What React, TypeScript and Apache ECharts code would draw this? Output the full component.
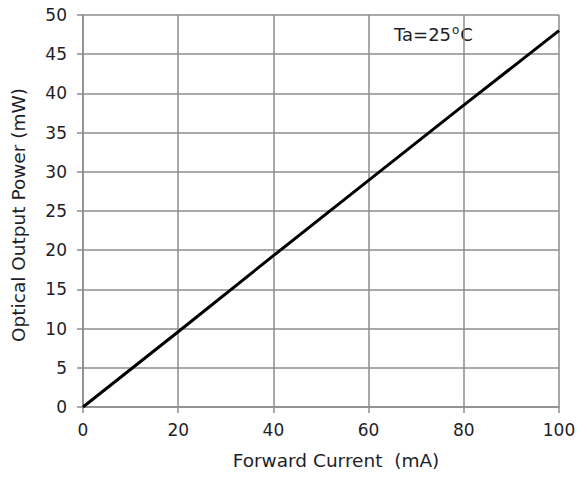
import React, { useEffect, useRef } from "react";
import * as echarts from "echarts";

const currents = [0, 20, 40, 60, 80, 100];
const powers = [0, 9.6, 19.3, 28.9, 38.5, 48];
const xName = "Forward Current  (mA)";
const yName = "Optical Output Power (mW)";

export default function App() {
  const ref = useRef<HTMLDivElement>(null);
  useEffect(() => {
    const chart = echarts.init(ref.current!, undefined, { renderer: "svg" });
    const gray = "#8c8c8c";
    const font = "'DejaVu Sans', sans-serif";
    const txt = "#1e1e28";
    chart.setOption({
      animation: false,
      backgroundColor: "#ffffff",
      grid: { left: 83, right: 28, top: 15, bottom: 73, containLabel: false, outerBoundsMode: "none" },
      xAxis: {
        type: "value",
        min: 0,
        max: 100,
        interval: 20,
        name: xName,
        nameLocation: "middle",
        nameGap: 44,
        nameTextStyle: { fontFamily: font, fontSize: 18.5, color: txt, padding: [0, 0, 0, 30] },
        axisLine: { show: true, lineStyle: { color: gray, width: 1.5 } },
        axisTick: { show: true, inside: false, length: 6, lineStyle: { color: gray, width: 1.5 } },
        axisLabel: { margin: 14, fontFamily: font, fontSize: 17, color: txt },
        splitLine: { show: true, lineStyle: { color: gray, width: 1.5 } },
      },
      yAxis: {
        type: "value",
        min: 0,
        max: 50,
        interval: 5,
        name: yName,
        nameLocation: "middle",
        nameGap: 55,
        nameTextStyle: { fontFamily: font, fontSize: 18.5, color: txt, padding: [0, 8, 0, 0] },
        axisLine: { show: true, lineStyle: { color: gray, width: 1.5 } },
        axisTick: { show: true, inside: false, length: 6, lineStyle: { color: gray, width: 1.5 } },
        axisLabel: { margin: 16, fontFamily: font, fontSize: 17, color: txt },
        splitLine: { show: true, lineStyle: { color: gray, width: 1.5 } },
      },
      graphic: [
        {
          type: "text",
          left: 394,
          top: 24,
          style: {
            text: "{a|Ta=25}{b|o}{a|C}",
            rich: {
              a: { fontFamily: font, fontSize: 18, lineHeight: 21, fill: txt },
              b: { fontFamily: font, fontSize: 12, lineHeight: 13, fill: txt, verticalAlign: "top", padding: [0, 1, 0, 1] },
            },
          },
        },
      ],
      series: [
        {
          type: "line",
          data: currents.map((c, i) => [c, powers[i]]),
          showSymbol: false,
          lineStyle: { color: "#000", width: 3 },
        },
      ],
    });
    return () => chart.dispose();
  }, []);
  return (
    <div
      ref={ref}
      style={{ position: "fixed", left: 0, top: 0, width: 587, height: 480 }}
    />
  );
}
